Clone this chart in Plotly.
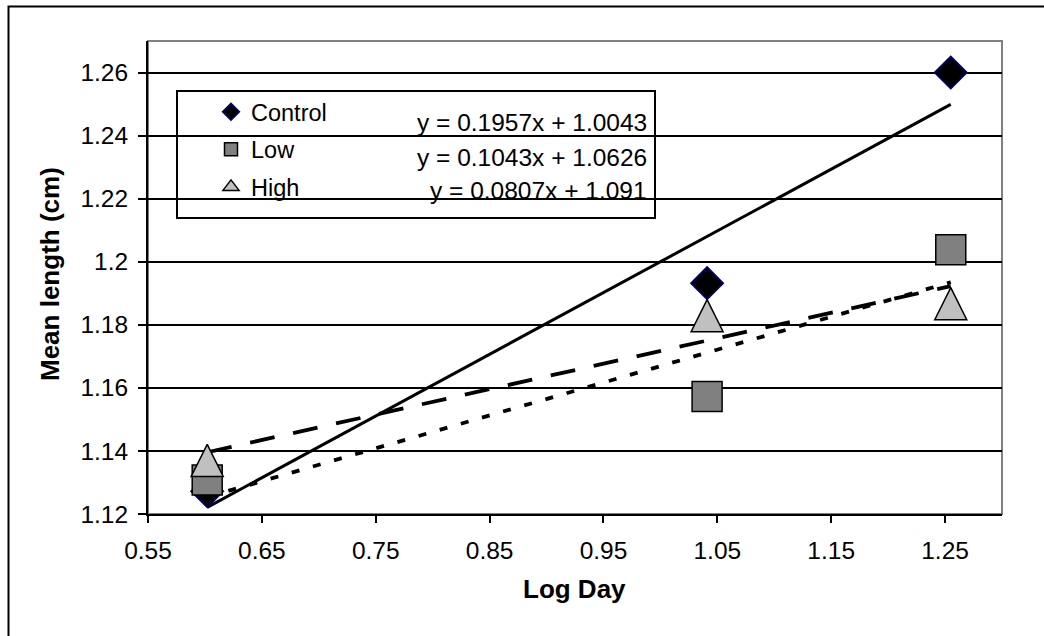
import plotly.graph_objects as go

# ---- data ----
log_day = [0.602, 1.041, 1.255]
series_names = ["Control", "Low", "High"]
control = [1.1272, 1.1932, 1.2600]
low = [1.1308, 1.1573, 1.2038]
high = [1.1370, 1.1829, 1.1867]
slopes = [0.1957, 0.1043, 0.0807]
intercepts = [1.0043, 1.0626, 1.091]
x_ticks = [0.55, 0.65, 0.75, 0.85, 0.95, 1.05, 1.15, 1.25]
x_ticktext = ["0.55", "0.65", "0.75", "0.85", "0.95", "1.05", "1.15", "1.25"]
y_ticks = [1.12, 1.14, 1.16, 1.18, 1.20, 1.22, 1.24, 1.26]
y_ticktext = ["1.12", "1.14", "1.16", "1.18", "1.2", "1.22", "1.24", "1.26"]

FONT = "Liberation Sans, Arial, sans-serif"
FS = 24.5

W, H = 1044, 636
ML, MR, MT, MB = 148, 42, 41, 122
PW, PH = W - ML - MR, H - MT - MB


def px_x(p):
    return (p - ML) / PW


def px_y(p):
    return (H - MB - p) / PH


fig = go.Figure()

# trendlines: Control solid, Low dotted, High dashed
dashes = ["solid", "8px,14px", "25px,19px"]
widths = [3, 3.8, 3.8]
for i in range(3):
    xs = [log_day[0], log_day[-1]]
    ys = [slopes[i] * x + intercepts[i] for x in xs]
    fig.add_trace(go.Scatter(
        x=xs, y=ys, mode="lines", showlegend=False, hoverinfo="skip",
        line=dict(color="black", width=widths[i], dash=dashes[i])))

# data markers
fig.add_trace(go.Scatter(
    x=log_day, y=control, mode="markers", name="Control", showlegend=False,
    marker=dict(symbol="diamond", size=25, color="black",
                line=dict(color="#000080", width=1.5))))
fig.add_trace(go.Scatter(
    x=log_day, y=low, mode="markers", name="Low", showlegend=False,
    marker=dict(symbol="square", size=30, color="#808080",
                line=dict(color="black", width=1.5))))
fig.add_trace(go.Scatter(
    x=log_day, y=high, mode="markers", name="High", showlegend=False,
    marker=dict(symbol="arrow-down", angle=180, standoff=16, size=32,
                color="#c0c0c0", line=dict(color="black", width=1.5))))

# legend entries
leg_markers = [
    dict(symbol="diamond", size=13, color="black", line=dict(color="#000080", width=1.5)),
    dict(symbol="square", size=13, color="#808080", line=dict(color="black", width=1.5)),
    dict(symbol="triangle-up", size=14, color="#c0c0c0", line=dict(color="black", width=1.5)),
]
for i, nm in enumerate(series_names):
    fig.add_trace(go.Scatter(
        x=[None], y=[None], mode="markers", name=nm, legendgroup=nm,
        marker=leg_markers[i]))

# legend box
fig.add_shape(type="rect", xref="paper", yref="paper",
              x0=px_x(177), x1=px_x(655), y0=px_y(218), y1=px_y(91),
              line=dict(color="black", width=2), fillcolor="white", layer="between")

# equations
eq_y = [123, 157, 190]
for i in range(3):
    fig.add_annotation(
        x=px_x(649), y=px_y(eq_y[i]), xref="paper", yref="paper",
        xanchor="right", yanchor="middle", showarrow=False,
        text=f"y = {slopes[i]}x + {intercepts[i]}",
        font=dict(family=FONT, size=FS, color="black"))

# plot border top/right (gray)
fig.add_shape(type="rect", xref="paper", yref="paper", x0=0, x1=1, y0=0, y1=1,
              line=dict(color="#808080", width=2), layer="below")

# outer chart border
fig.add_shape(type="rect", xref="paper", yref="paper",
              x0=px_x(8.5), x1=px_x(1050), y0=px_y(645), y1=px_y(6.5),
              line=dict(color="black", width=2), layer="below")

# axis titles
fig.add_annotation(x=px_x(50), y=px_y(274), xref="paper", yref="paper",
                   text="<b>Mean length (cm)</b>", textangle=-90, showarrow=False,
                   xanchor="center", yanchor="middle",
                   font=dict(family=FONT, size=26, color="black"))
fig.add_annotation(x=px_x(574), y=px_y(589), xref="paper", yref="paper",
                   text="<b>Log Day</b>", showarrow=False,
                   xanchor="center", yanchor="middle",
                   font=dict(family=FONT, size=26, color="black"))

fig.update_layout(
    width=W, height=H,
    margin=dict(l=ML, r=MR, t=MT, b=MB, pad=0),
    paper_bgcolor="white", plot_bgcolor="white",
    font=dict(family=FONT, size=FS, color="black"),
    showlegend=True,
    legend=dict(x=px_x(211), y=px_y(90), xanchor="left", yanchor="top",
                bgcolor="rgba(0,0,0,0)", borderwidth=0,
                font=dict(family=FONT, size=23.5, color="black"),
                itemsizing="trace", tracegroupgap=4),
    xaxis=dict(range=[0.55, 1.30], tickvals=x_ticks, ticktext=x_ticktext,
               showgrid=False, zeroline=False, showline=True, linecolor="black",
               linewidth=2, ticks="outside", ticklen=7, tickwidth=2,
               tickcolor="black", ticklabelstandoff=7,
               tickfont=dict(family=FONT, size=FS, color="black")),
    yaxis=dict(range=[1.12, 1.27], tickvals=y_ticks, ticktext=y_ticktext,
               showgrid=True, gridcolor="black", gridwidth=2, zeroline=False,
               showline=True, linecolor="black", linewidth=2, ticks="outside",
               ticklen=8, tickwidth=2, tickcolor="black", ticklabelstandoff=5,
               tickfont=dict(family=FONT, size=FS, color="black")),
)

fig.write_html("out.html")
